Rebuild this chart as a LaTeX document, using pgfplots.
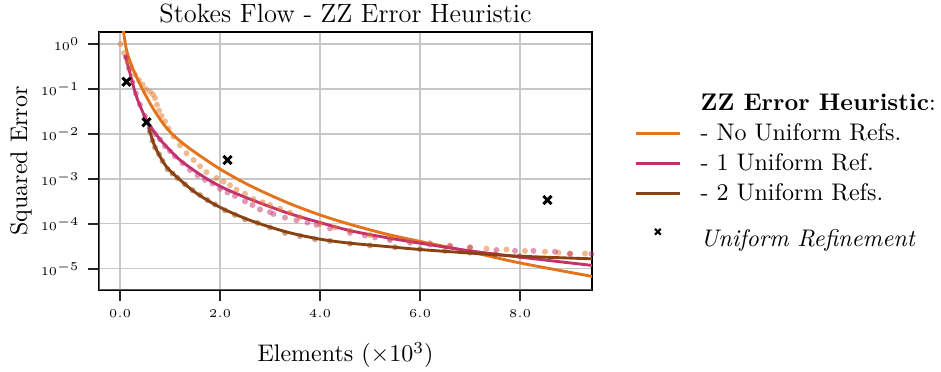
\documentclass[border=0pt]{standalone}
\usepackage{pgfplots}
\pgfplotsset{compat=1.18}
\definecolor{cOr}{RGB}{228,116,28}
\definecolor{cPk}{RGB}{196,50,108}
\definecolor{cBr}{RGB}{139,66,18}
\begin{document}
\begin{tikzpicture}
\path[use as bounding box] (-41.25pt,-34.17pt) rectangle (350.8pt,120.8pt);
\begin{axis}[
  at={(0pt,0pt)}, anchor=south west,
  scale only axis, width=205.4pt, height=107.5pt,
  ymode=log,
  xmin=-0.42, xmax=9.44, ymin=3.39e-6, ymax=1.862,
  xtick={0,2,4,6,8},
  xticklabel={\pgfmathprintnumber[fixed,fixed zerofill,precision=1]{\tick}},
  ytick={1e-5,1e-4,1e-3,1e-2,1e-1,1},
  yminorticks=false,
  grid=major,
  grid style={black!22, line width=0.5pt},
  tick pos=left, tick align=outside,
  major tick length=4.6pt,
  tick style={black!85, line width=0.7pt},
  tick label style={font=\tiny},
  axis line style={black, line width=0.6pt},
  every axis title/.style={at={(axis description cs:0.5,1)}, anchor=base, yshift=3.9pt, font=\fontsize{11}{13}\selectfont},
  title={Stokes Flow - ZZ Error Heuristic},
  every axis x label/.style={at={(axis description cs:0.5,-0.279)}, anchor=base},
  xlabel={Elements ($\times 10^3$)},
  every axis y label/.style={at={(axis description cs:-0.146,0.5)}, rotate=90, anchor=base},
  ylabel={Squared Error},
  legend style={draw=none, fill=none, at={(1.07,0.80)}, anchor=north west, font=\normalsize,
    /tikz/every odd column/.append style={column sep=6pt}},
  legend cell align=left,
  legend image code/.code={\draw[#1] (0cm,0cm) -- (0.65cm,0cm);},
  dots/.style={forget plot, only marks, mark=*, mark size=1.25pt, color=#1,
    mark options={draw opacity=0, fill opacity=0.5}},
]
\addlegendimage{empty legend}
\addlegendentry{\textbf{ZZ Error Heuristic}:}

% scatter dots
\addplot[dots=cOr] coordinates {
(0.01,1.0) (0.08,0.631) (0.15,0.398) (0.22,0.282) (0.3,0.209) (0.38,0.158) (0.45,0.126) (0.52,0.1)
(0.6,0.0871) (0.66,0.0759) (0.7,0.0631) (0.74,0.0447) (0.78,0.0331) (0.83,0.0251) (0.9,0.0191) (0.97,0.0132)
(1.07,0.00871) (1.2,0.00562) (1.33,0.00372) (1.47,0.00263) (1.6,0.00191) (1.73,0.00141) (1.93,0.00105)
(2.07,8.71e-4) (2.2,7.24e-4) (2.33,5.75e-4) (2.5,4.68e-4) (2.67,3.55e-4) (2.85,3.02e-4) (3.0,2.63e-4)
(3.2,2.19e-4) (3.4,1.78e-4) (3.6,1.41e-4) (4.0,1.0e-4) (4.3,8.32e-5) (4.6,7.08e-5) (5.0,5.62e-5)
(5.4,4.68e-5) (5.8,4.17e-5) (6.2,3.72e-5) (6.6,3.31e-5) (7.0,3.02e-5) (7.33,2.82e-5) (7.73,2.69e-5)
(8.1,2.51e-5) (8.5,2.4e-5) (8.77,2.29e-5) (9.0,2.19e-5) (9.3,2.19e-5)
};
\addplot[dots=cPk] coordinates {
(0.12,0.501) (0.18,0.282) (0.25,0.141) (0.32,0.0794) (0.4,0.0447) (0.5,0.0251) (0.6,0.0141) (0.7,0.01)
(0.8,0.00759) (0.9,0.00537) (1.0,0.00417) (1.1,0.00316) (1.25,0.00224) (1.4,0.00158) (1.55,0.0012)
(1.7,9.55e-4) (1.85,7.94e-4) (2.0,6.03e-4) (2.15,5.01e-4) (2.3,4.17e-4) (2.5,3.16e-4) (2.65,2.63e-4)
(2.8,2.09e-4) (3.0,1.82e-4) (3.07,1.66e-4) (3.3,1.38e-4) (3.53,1.2e-4) (3.75,1.07e-4) (3.93,9.55e-5)
(4.2,7.94e-5) (4.6,6.31e-5) (4.9,5.5e-5) (5.1,5.01e-5) (5.4,4.37e-5) (5.8,3.8e-5) (6.2,3.47e-5)
(6.6,3.16e-5) (7.0,2.95e-5) (7.53,2.63e-5) (7.9,2.51e-5) (8.27,2.51e-5) (8.7,2.4e-5) (9.0,2.14e-5) (9.43,2.14e-5)
};
\addplot[dots=cBr] coordinates {
(0.6,0.0112) (0.65,0.00708) (0.7,0.00501) (0.78,0.00355) (0.85,0.00251) (0.95,0.00166) (1.05,0.00132)
(1.15,0.00105) (1.3,7.59e-4) (1.45,5.62e-4) (1.6,4.37e-4) (1.75,3.39e-4) (1.9,2.69e-4) (2.1,2.0e-4)
(2.3,1.58e-4) (2.5,1.26e-4) (2.75,1.05e-4) (3.0,8.32e-5) (3.3,6.31e-5) (3.6,5.37e-5) (3.9,4.57e-5)
(4.2,4.17e-5) (4.6,3.63e-5) (5.0,3.31e-5) (5.5,3.02e-5) (6.0,2.75e-5) (6.5,2.51e-5) (7.0,2.29e-5)
(7.5,2.09e-5) (8.0,1.91e-5)
};

% fitted lines
\addplot[cOr, line width=1.2pt, smooth] coordinates {
(0.03,3.98) (0.13,0.741) (0.27,0.263) (0.47,0.0891) (0.67,0.0355) (0.87,0.0166) (1.07,0.00933)
(1.4,0.00468) (2.0,0.00166) (2.6,7.08e-4) (3.33,3.02e-4) (4.0,1.58e-4) (4.6,9.77e-5) (5.3,6.03e-5)
(6.0,4.07e-5) (7.0,2.4e-5) (8.0,1.35e-5) (9.5,6.61e-6)
};
\addlegendentry{- No Uniform Refs.}
\addplot[cPk, line width=1.2pt, smooth] coordinates {
(0.1,0.575) (0.2,0.224) (0.33,0.0676) (0.53,0.0204) (0.73,0.00955) (0.87,0.00617) (1.2,0.00263)
(1.67,0.00112) (2.07,6.31e-4) (2.6,3.55e-4) (3.33,1.78e-4) (4.0,1.07e-4) (4.6,7.08e-5) (5.3,5.01e-5)
(6.0,3.72e-5) (7.0,2.51e-5) (8.0,1.82e-5) (9.5,1.17e-5)
};
\addlegendentry{- 1 Uniform Ref.}
\addplot[cBr, line width=1.2pt, smooth] coordinates {
(0.57,0.0141) (0.67,0.00631) (0.75,0.00398) (0.93,0.00186) (1.2,9.55e-4) (1.53,4.79e-4) (2.0,2.34e-4)
(2.6,1.2e-4) (3.33,6.61e-5) (4.0,4.57e-5) (4.6,3.72e-5) (5.3,3.16e-5) (6.0,2.69e-5) (7.0,2.24e-5)
(8.0,1.91e-5) (9.5,1.66e-5)
};
\addlegendentry{- 2 Uniform Refs.}

% uniform refinement
\addplot[only marks, mark=x, mark size=2.4pt, black, line width=1.2pt,
  legend image code/.code={\draw[black, line width=0.9pt, mark=x, mark size=1.7pt] plot[only marks] coordinates {(0.325cm,0cm)};}]
  coordinates {(0.13,0.145) (0.53,0.0182) (2.15,0.00263) (8.55,3.39e-4)};
\addlegendentry{\rule{0pt}{13.6pt}\textit{Uniform Refinement}}

\draw[black!65, line width=0.9pt] (rel axis cs:0,0) -- (rel axis cs:0,1);
\draw[black!65, line width=0.9pt] (rel axis cs:0,0) -- (rel axis cs:1,0);
\end{axis}
\end{tikzpicture}
\end{document}
